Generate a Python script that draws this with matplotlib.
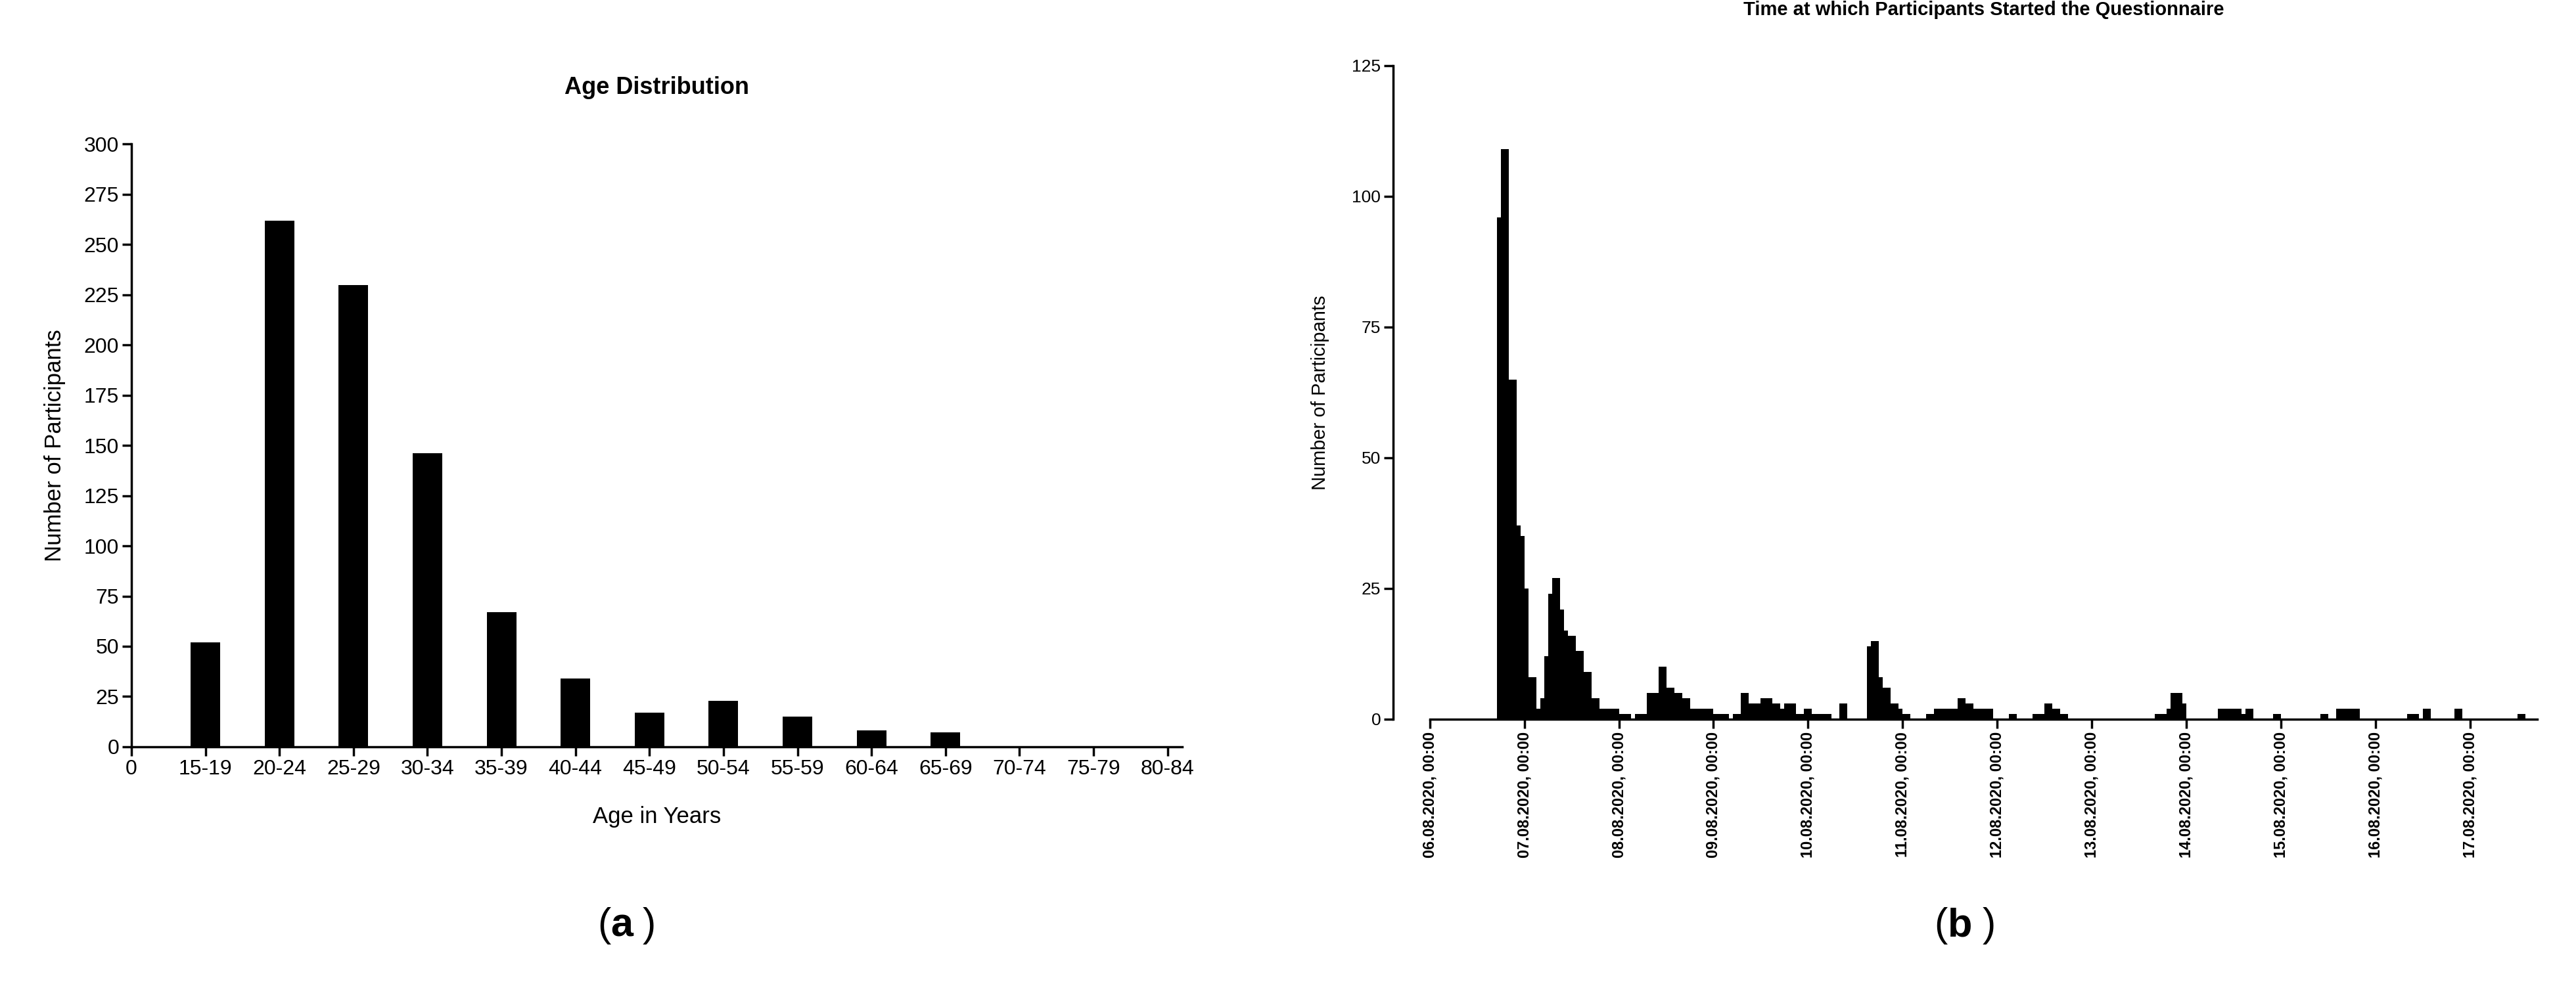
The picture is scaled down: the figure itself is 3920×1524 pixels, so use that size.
import matplotlib
matplotlib.use("Agg")
import matplotlib.pyplot as plt

plt.rcParams['font.family'] = ['Liberation Sans', 'DejaVu Sans']

# ---- Panel (a) data ----
age_groups = ["15-19", "20-24", "25-29", "30-34", "35-39", "40-44", "45-49",
              "50-54", "55-59", "60-64", "65-69", "70-74", "75-79", "80-84"]
age_counts = [52, 262, 230, 146, 67, 34, 17, 23, 15, 8, 7, 0, 0, 0]

# ---- Panel (b) data: hour offset since 06.08.2020 00:00 -> participants ----
start_hours = [17, 18, 19, 20, 21, 22, 23, 24, 25, 26, 27, 28, 29, 30, 31, 32, 33, 34, 35, 36,
               37, 38, 39, 40, 41, 42, 43, 44, 45, 46, 47, 48, 49, 50, 52, 53, 54, 55, 56, 57,
               58, 59, 60, 61, 62, 63, 64, 65, 66, 67, 68, 69, 70, 71, 72, 73, 74, 75, 77, 78,
               79, 80, 81, 82, 83, 84, 85, 86, 87, 88, 89, 90, 91, 92, 93, 94, 95, 96, 97, 98,
               99, 100, 101, 104, 105, 111, 112, 113, 114, 115, 116, 117, 118, 119, 120, 121,
               126, 127, 128, 129, 130, 131, 132, 133, 134, 135, 136, 137, 138, 139, 140, 141,
               142, 147, 148, 153, 154, 155, 156, 157, 158, 159, 160, 161,
               184, 185, 186, 187, 188, 189, 190, 191, 200, 201, 202, 203, 204, 205, 206, 207,
               208, 214, 215, 226, 227, 230, 231, 232, 233, 234, 235, 248, 249, 250, 252, 253,
               260, 261, 276, 277]
start_counts = [96, 109, 109, 65, 65, 37, 35, 25, 8, 8, 2, 4, 12, 24, 27, 27, 21, 17, 16, 16,
                13, 13, 9, 9, 4, 4, 2, 2, 2, 2, 2, 1, 1, 1, 1, 1, 1, 5, 5, 5,
                10, 10, 6, 6, 5, 5, 4, 4, 2, 2, 2, 2, 2, 2, 1, 1, 1, 1, 1, 1,
                5, 5, 3, 3, 3, 4, 4, 4, 3, 3, 2, 3, 3, 3, 1, 1, 2, 2, 1, 1,
                1, 1, 1, 3, 3, 14, 15, 15, 8, 6, 6, 3, 3, 2, 1, 1,
                1, 1, 2, 2, 2, 2, 2, 2, 4, 4, 3, 3, 2, 2, 2, 2,
                2, 1, 1, 1, 1, 1, 3, 3, 2, 2, 1, 1,
                1, 1, 1, 2, 5, 5, 5, 3, 2, 2, 2, 2, 2, 2, 1, 2,
                2, 1, 1, 1, 1, 2, 2, 2, 2, 2, 2, 1, 1, 1, 2, 2,
                2, 2, 1, 1]
date_labels = ["06.08.2020, 00:00", "07.08.2020, 00:00", "08.08.2020, 00:00",
               "09.08.2020, 00:00", "10.08.2020, 00:00", "11.08.2020, 00:00",
               "12.08.2020, 00:00", "13.08.2020, 00:00", "14.08.2020, 00:00",
               "15.08.2020, 00:00", "16.08.2020, 00:00", "17.08.2020, 00:00"]
date_ticks = [0, 24, 48, 72, 96, 120, 144, 168, 192, 216, 240, 264]

fig = plt.figure(figsize=(39.2, 15.24), dpi=100)

# ---- Panel (a) ----
ax1 = fig.add_axes([0.051, 0.254, 0.408, 0.602])
xpos = list(range(1, len(age_groups) + 1))
ax1.bar(xpos, age_counts, width=0.4, color='black')
ax1.set_xlim(0, 14.2)
ax1.set_ylim(0, 300)
ax1.set_yticks(range(0, 301, 25))
ax1.set_xticks([0] + xpos)
ax1.set_xticklabels(["0"] + age_groups)
for s in ['top', 'right']:
    ax1.spines[s].set_visible(False)
for s in ['left', 'bottom']:
    ax1.spines[s].set_linewidth(2.5)
ax1.tick_params(labelsize=23, width=2.5, length=10)
ax1.set_title("Age Distribution", fontsize=26, fontweight='bold', pad=55)
ax1.set_xlabel("Age in Years", fontsize=25, labelpad=30)
ax1.set_ylabel("Number of Participants", fontsize=25, labelpad=20)

# ---- Panel (b) ----
ax2 = fig.add_axes([0.555, 0.2815, 0.430, 0.653])
ax2.bar(start_hours, start_counts, width=1.0, align='edge', color='black', linewidth=0)
ax2.set_xlim(0, 281)
ax2.set_ylim(0, 125)
ax2.set_yticks(range(0, 126, 25))
ax2.set_xticks(date_ticks)
ax2.set_xticklabels(date_labels, rotation=90, fontweight='bold', fontsize=17)
for s in ['top', 'right']:
    ax2.spines[s].set_visible(False)
for s in ['left', 'bottom']:
    ax2.spines[s].set_linewidth(2.5)
ax2.spines['left'].set_position(('outward', 40))
ax2.tick_params(axis='y', labelsize=19, width=2.5, length=10)
ax2.tick_params(axis='x', width=2.5, length=10)
ax2.set_title("Time at which Participants Started the Questionnaire", fontsize=21,
              fontweight='bold', pad=55)
ax2.set_ylabel("Number of Participants", fontsize=21, labelpad=25)

# panel letters
fig.text(0.237, 0.075, "(", fontsize=44, ha='right', va='center')
fig.text(0.237, 0.075, "a", fontsize=44, fontweight='bold', ha='left', va='center')
fig.text(0.2495, 0.075, ")", fontsize=44, ha='left', va='center')
fig.text(0.756, 0.075, "(", fontsize=44, ha='right', va='center')
fig.text(0.756, 0.075, "b", fontsize=44, fontweight='bold', ha='left', va='center')
fig.text(0.7695, 0.075, ")", fontsize=44, ha='left', va='center')

fig.savefig("out.png", dpi=100, facecolor='white')
